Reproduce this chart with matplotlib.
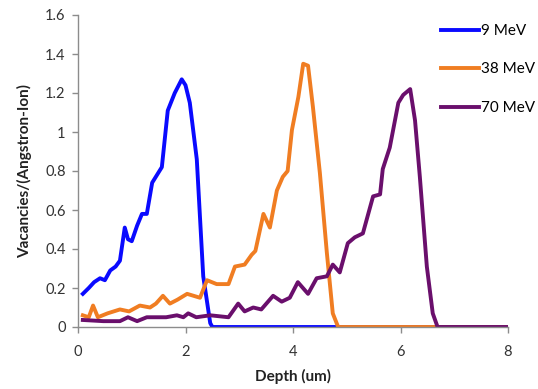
import numpy as np
import matplotlib.pyplot as plt

# depth (um) and vacancies per (Angstrom-ion)
x_9 = [0.09, 0.2, 0.3, 0.41, 0.5, 0.6, 0.7, 0.78, 0.87, 0.93, 1.0, 1.1, 1.19,
       1.28, 1.38, 1.47, 1.56, 1.67, 1.8, 1.93, 2.0, 2.08, 2.21, 2.33, 2.46,
       2.5, 8.0]
y_9 = [0.17, 0.2, 0.23, 0.25, 0.24, 0.29, 0.31, 0.34, 0.51, 0.45, 0.44, 0.52,
       0.58, 0.58, 0.74, 0.78, 0.82, 1.11, 1.2, 1.27, 1.24, 1.15, 0.86, 0.26,
       0.02, 0.0, 0.0]

x_38 = [0.09, 0.2, 0.28, 0.37, 0.55, 0.78, 0.95, 1.15, 1.34, 1.45, 1.58, 1.71,
        1.85, 2.03, 2.27, 2.4, 2.58, 2.8, 2.92, 3.1, 3.23, 3.3, 3.45, 3.57,
        3.7, 3.81, 3.9, 3.98, 4.1, 4.19, 4.28, 4.37, 4.5, 4.63, 4.74, 4.84,
        8.0]
y_38 = [0.06, 0.05, 0.11, 0.05, 0.07, 0.09, 0.08, 0.11, 0.10, 0.12, 0.16,
        0.12, 0.14, 0.17, 0.15, 0.24, 0.22, 0.22, 0.31, 0.32, 0.37, 0.39, 0.58,
        0.51, 0.70, 0.77, 0.80, 1.01, 1.18, 1.35, 1.34, 1.13, 0.79, 0.38, 0.07,
        0.0, 0.0]

x_70 = [0.09, 0.47, 0.78, 0.93, 1.1, 1.28, 1.64, 1.84, 1.96, 2.05, 2.2, 2.46,
        2.8, 2.98, 3.1, 3.26, 3.41, 3.63, 3.79, 3.94, 4.09, 4.28, 4.44, 4.63,
        4.74, 4.87, 5.02, 5.15, 5.3, 5.49, 5.62, 5.67, 5.8, 5.96, 6.05, 6.18,
        6.27, 6.36, 6.49, 6.6, 6.69, 8.0]
y_70 = [0.036, 0.03, 0.03, 0.05, 0.03, 0.05, 0.05, 0.06, 0.05, 0.07, 0.05, 0.06,
        0.05, 0.12, 0.08, 0.10, 0.09, 0.16, 0.13, 0.15, 0.23, 0.17, 0.25, 0.26,
        0.32, 0.28, 0.43, 0.46, 0.48, 0.67, 0.68, 0.81, 0.92, 1.15, 1.19, 1.22,
        1.06, 0.77, 0.31, 0.07, 0.0, 0.0]

labels = ['9 MeV', '38 MeV', '70 MeV']
colors = ['#0a0aff', '#f07d22', '#6a0f6c']

xticks = [0, 2, 4, 6, 8]
yticks = [0, 0.2, 0.4, 0.6, 0.8, 1.0, 1.2, 1.4, 1.6]
ytick_labels = ['0', '0.2', '0.4', '0.6', '0.8', '1', '1.2', '1.4', '1.6']

plt.rcParams['font.family'] = ['Lato', 'DejaVu Sans']

fig = plt.figure(figsize=(5.38, 3.89), dpi=100)
ax = fig.add_axes([78/538, 1 - 327/389, 430/538, 312/389])

for xs, ys, lab, c in zip([x_9, x_38, x_70], [y_9, y_38, y_70], labels, colors):
    ax.plot(xs, ys, color=c, lw=2.8, label=lab, solid_joinstyle='round')

ax.set_xlim(0, 8)
ax.set_ylim(0, 1.6)
ax.set_xticks(xticks)
ax.set_xticklabels([str(t) for t in xticks])
ax.set_yticks(yticks)
ax.set_yticklabels(ytick_labels)

for s in ['top', 'right']:
    ax.spines[s].set_visible(False)
for s in ['left', 'bottom']:
    ax.spines[s].set_color('#8c8c8c')
    ax.spines[s].set_linewidth(1.0)
ax.tick_params(colors='#8c8c8c', labelcolor='#333333', labelsize=10.5,
               length=4, width=1.0)
ax.tick_params(axis='x', pad=9)
ax.tick_params(axis='y', pad=5)

ax.set_xlabel('Depth (um)', fontsize=11, fontweight='bold', color='#222222',
              labelpad=7)
ax.set_ylabel('Vacancies/(Angstron-Ion)', fontsize=11, fontweight='bold',
              color='#222222', labelpad=9)

fig.legend(loc='upper left', bbox_to_anchor=(441/538, 1 - 24/389),
           frameon=False, fontsize=11, handlelength=2.5, handletextpad=0.1,
           labelspacing=1.6, borderpad=0, borderaxespad=0)

fig.savefig('out.png', dpi=100)
